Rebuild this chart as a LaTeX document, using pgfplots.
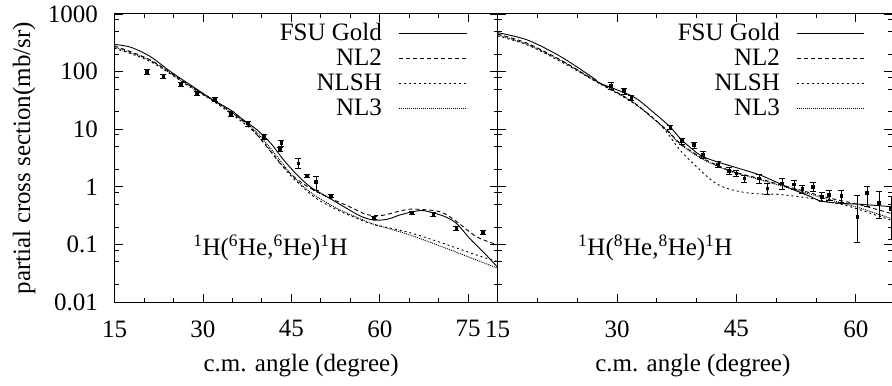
\documentclass[border=0pt]{standalone}
\usepackage{fontspec}
\setmainfont{Liberation Serif}
\usepackage{pgfplots}
\usepackage{pgfplotstable}
\pgfplotsset{compat=1.18}

% experimental data, 6He
\pgfplotstableread{
x y ep em
20.5 100 10 9
23.3 82 6 6
26.2 61 5 5
29.0 42 4 4
32.0 33 3 3
34.8 18.4 1.6 1.6
37.6 12.6 1.2 1.2
40.3 7.4 0.8 0.7
43.3 5.7 0.7 0.6
43.0 4.5 0.3 0.3
46.2 2.55 0.57 0.46
47.7 1.54 0.08 0.08
49.2 1.2 0.34 0.32
51.7 0.70 0.05 0.05
59.0 0.29 0.02 0.02
65.4 0.356 0.02 0.02
69.1 0.333 0.025 0.025
73.0 0.187 0.015 0.015
77.5 0.16 0.012 0.012
}\expsix
% experimental data, 8He
\pgfplotstableread{
x y ep em
29.2 56 8 7
30.9 46 5 5
31.8 35 4 4
36.7 10.8 1 1
38.1 6.2 0.8 0.8
39.7 5.3 0.6 0.6
40.8 3.56 0.5 0.5
42.7 2.45 0.3 0.3
44.1 1.88 0.25 0.25
45.0 1.71 0.2 0.2
46.0 1.40 0.2 0.2
47.8 1.40 0.25 0.25
48.9 0.94 0.2 0.2
50.7 1.15 0.25 0.25
52.2 1.10 0.2 0.2
53.3 0.92 0.15 0.15
54.6 1.0 0.17 0.17
55.7 0.67 0.12 0.12
56.6 0.72 0.15 0.15
58.2 0.70 0.17 0.17
60.2 0.30 0.42 0.19
61.4 0.79 0.21 0.34
62.9 0.52 0.30 0.24
64.4 0.41 0.26 0.29
}\expeight

\begin{document}
\fontsize{25bp}{30bp}\selectfont
\begin{tikzpicture}
\useasboundingbox (0bp,0bp) rectangle (892bp,386bp);

\begin{axis}[at={(114.5bp,84bp)}, anchor=south west, width=383.2bp,
  ymode=log, ymin=0.01, ymax=1000, scale only axis, height=288bp,
  xmin=15, xmax=80, xtick={15,30,45,60,75},
  minor xtick={20,25,35,40,50,55,65,70,80},
  tick align=inside, major tick length=8bp, minor tick length=4bp,
  ytick={0.01,0.1,1,10,100,1000},
  minor ytick={0.02,0.05,0.08,0.2,0.5,0.8,2,5,8,20,50,80,200,500,800},
  yticklabels={0.01,0.1,1,10,100,1000},
  axis line style={line width=1bp},
  every tick/.style={black, line width=0.8bp},
  /pgf/number format/assume math mode=true,
  xticklabel style={yshift=-10bp},
  yticklabel style={xshift=-8bp},
  xlabel={c.m. angle (degree)},
  ylabel={partial cross section(mb/sr)},
  ylabel style={at={(axis description cs:-0.236,0.5)}, anchor=center},
  xlabel style={at={(axis description cs:0.487,-0.222)}, anchor=center},
  legend plot pos=right,
  legend cell align=right,
  legend image code/.code={\draw[#1] (0bp,0bp) -- (68bp,0bp);},
  legend style={draw=none, fill=none, inner sep=0pt, anchor=north east,
    at={(rel axis cs:0.9225,0.975)}, row sep=0bp, column sep=17bp,
    nodes={inner sep=0pt, text height=19bp, text depth=6bp}},
]
\addplot[black, line width=0.9bp, smooth] coordinates {(15,297)(17.8,264)(21.1,182)(24.5,100)(27.9,58.5)(31.3,34.4)(34.7,21.5)(36.9,14.4)(39.2,9.7)(41.5,5.7)(43.7,2.92)(46.0,1.60)(48.2,1.00)(51.0,0.675)(53.9,0.452)(56.7,0.311)(58.9,0.265)(61.2,0.272)(63.4,0.324)(65.7,0.37)(67.5,0.385)(70.8,0.311)(73.0,0.232)(75.3,0.125)(77.5,0.075)(80,0.04)};
\addlegendentry{FSU Gold}
\addplot[black, line width=0.9bp, dash pattern=on 4bp off 3bp, smooth] coordinates {(15,278)(21.1,159)(27.9,56.2)(31.3,34.4)(34.7,20.1)(38.1,10.5)(40.8,5.0)(43.6,2.23)(46.5,1.23)(49.3,0.82)(52.1,0.6)(54.9,0.45)(57.8,0.33)(60.5,0.32)(63.4,0.38)(65.6,0.41)(70.2,0.37)(73.0,0.25)(76.4,0.136)(80,0.098)};
\addlegendentry{NL2}
\addplot[black, line width=0.9bp, dash pattern=on 2bp off 3bp, smooth] coordinates {(15,254)(21.1,149)(27.9,53.3)(31.3,33.0)(34.7,18.8)(38.1,10.2)(40.3,6.0)(42.6,3.0)(44.8,1.6)(47.1,0.95)(49.3,0.62)(52.7,0.40)(56.1,0.284)(58.9,0.223)(65.1,0.16)(70.8,0.104)(76.4,0.0655)(80,0.05)};
\addlegendentry{NLSH}
\addplot[black, line width=0.9bp, dash pattern=on 1bp off 1bp, smooth] coordinates {(15,264)(21.1,155)(27.9,54.7)(31.3,33.4)(34.7,20.1)(38.1,11.1)(40.3,6.5)(42.6,3.33)(44.8,1.71)(47.1,1.0)(49.3,0.675)(52.7,0.423)(56.1,0.295)(58.9,0.226)(65.1,0.146)(70.8,0.089)(76.4,0.0536)(80,0.0385)};
\addlegendentry{NL3}
\addplot[forget plot, black, only marks, mark=square*, mark size=1.4bp, line width=0.8bp,
  error bars/.cd, y dir=both, y explicit, error mark options={rotate=90, mark size=3bp, line width=0.8bp}]
  table[x=x, y=y, y error plus=ep, y error minus=em] {\expsix};
\node[anchor=base west, inner sep=0pt] at (rel axis cs:0.205,0.16) {\textsuperscript{1}H(\textsuperscript{6}He,\textsuperscript{6}He)\textsuperscript{1}H};
\end{axis}

\begin{axis}[at={(497.7bp,84bp)}, anchor=south west, width=394.3bp,
  ymode=log, ymin=0.01, ymax=1000, scale only axis, height=288bp,
  xmin=15, xmax=64.55, xtick={15,30,45,60},
  minor xtick={20,25,35,40,50,55,65},
  tick align=inside, major tick length=8bp, minor tick length=4bp,
  ytick={0.01,0.1,1,10,100,1000},
  minor ytick={0.02,0.05,0.08,0.2,0.5,0.8,2,5,8,20,50,80,200,500,800},
  yticklabels={},
  axis line style={line width=1bp},
  every tick/.style={black, line width=0.8bp},
  /pgf/number format/assume math mode=true,
  xticklabel style={yshift=-10bp},
  xlabel={c.m. angle (degree)},
  xlabel style={at={(axis description cs:0.495,-0.222)}, anchor=center},
  legend plot pos=right,
  legend cell align=right,
  legend image code/.code={\draw[#1] (0bp,0bp) -- (67bp,0bp);},
  legend style={draw=none, fill=none, inner sep=0pt, anchor=north east,
    at={(rel axis cs:0.9315,0.975)}, row sep=0bp, column sep=17bp,
    nodes={inner sep=0pt, text height=19bp, text depth=6bp}},
]
\addplot[black, line width=0.9bp, smooth] coordinates {(15,474)(18.73,354)(22.92,182)(27.11,76)(27.86,63)(32.04,36.6)(34.4,20.5)(36.66,11.0)(38.13,6.5)(40.42,3.56)(42.53,2.73)(44.61,2.23)(47.97,1.60)(50.15,1.18)(52.24,0.88)(54.34,0.675)(55.60,0.565)(58.11,0.516)(60.62,0.497)(64.39,0.452)(65,0.445)};
\addlegendentry{FSU Gold}
\addplot[black, line width=0.9bp, dash pattern=on 4bp off 3bp, smooth] coordinates {(15,450)(18.73,310)(22.92,159)(27.11,72)(32.04,29.5)(36.24,9.7)(37.9,5.7)(40.42,3.33)(42.53,2.39)(44.61,1.83)(47.97,1.38)(50.15,1.12)(52.24,0.94)(54.34,0.78)(56.43,0.65)(58.53,0.56)(60.62,0.483)(64.39,0.346)(65,0.33)};
\addlegendentry{NL2}
\addplot[black, line width=0.9bp, dash pattern=on 2bp off 3bp, smooth] coordinates {(15,415)(18.73,290)(22.92,149)(27.11,70)(32.04,28.5)(35.49,11.8)(37.9,4.35)(40.42,1.96)(42.2,1.2)(43.8,0.94)(45.96,0.80)(48.05,0.75)(50.15,0.74)(52.24,0.69)(54.34,0.63)(56.43,0.552)(58.53,0.483)(60.62,0.395)(64.39,0.265)(65,0.255)};
\addlegendentry{NLSH}
\addplot[black, line width=0.9bp, dash pattern=on 1bp off 1bp, smooth] coordinates {(15,432)(18.73,297)(22.92,155)(27.11,71)(32.04,29)(36.24,9.5)(37.9,5.5)(40.42,3.2)(42.53,2.3)(44.61,1.78)(47.97,1.33)(50.15,1.08)(52.24,0.9)(54.34,0.74)(56.43,0.61)(58.53,0.51)(60.62,0.423)(64.39,0.284)(65,0.27)};
\addlegendentry{NL3}
\addplot[forget plot, black, only marks, mark=square*, mark size=1.4bp, line width=0.8bp,
  error bars/.cd, y dir=both, y explicit, error mark options={rotate=90, mark size=3bp, line width=0.8bp}]
  table[x=x, y=y, y error plus=ep, y error minus=em] {\expeight};
\node[anchor=base west, inner sep=0pt] at (rel axis cs:0.2037,0.16) {\textsuperscript{1}H(\textsuperscript{8}He,\textsuperscript{8}He)\textsuperscript{1}H};
\end{axis}
\end{tikzpicture}
\end{document}
